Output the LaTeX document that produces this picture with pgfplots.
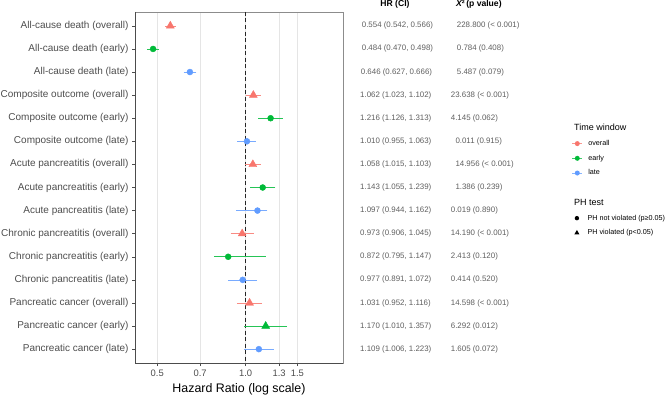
\documentclass[border=0pt]{standalone}
\usepackage{pgfplots}
\pgfplotsset{compat=1.18}
\usepackage{pgfplotstable}
\usepackage{fontspec}
\setmainfont{Liberation Sans}
\definecolor{cOv}{HTML}{F8766D}
\definecolor{cEa}{HTML}{00BA38}
\definecolor{cLa}{HTML}{619CFF}
\definecolor{gtxt}{HTML}{4D4D4D}

\pgfplotstableread{
y hr lo hi
1 0.554 0.542 0.566
4 1.062 1.023 1.102
7 1.058 1.015 1.103
10 0.973 0.906 1.045
13 1.031 0.952 1.116
}\overall
\pgfplotstableread{
y hr lo hi
2 0.484 0.470 0.498
5 1.216 1.126 1.313
8 1.143 1.055 1.239
11 0.872 0.795 1.147
}\earlyC
\pgfplotstableread{
y hr lo hi
14 1.170 1.010 1.357
}\earlyT
\pgfplotstableread{
y hr lo hi
3 0.646 0.627 0.666
6 1.010 0.955 1.063
9 1.097 0.944 1.162
12 0.977 0.891 1.072
15 1.109 1.006 1.223
}\late

\pgfplotstableread[col sep=semicolon]{
y;hx;hr;cx;chi
1;361.7;0.554 (0.542, 0.566);456.7;228.800 (< 0.001)
2;361.7;0.484 (0.470, 0.498);456.7;0.784 (0.408)
3;360.7;0.646 (0.627, 0.666);456.7;5.487 (0.079)
4;360;1.062 (1.023, 1.102);450.7;23.638 (< 0.001)
5;360;1.216 (1.126, 1.313);450.7;4.145 (0.062)
6;360;1.010 (0.955, 1.063);455.3;0.011 (0.915)
7;360;1.058 (1.015, 1.103);455.3;14.956 (< 0.001)
8;360;1.143 (1.055, 1.239);455.3;1.386 (0.239)
9;360;1.097 (0.944, 1.162);450.7;0.019 (0.890)
10;360;0.973 (0.906, 1.045);450.7;14.190 (< 0.001)
11;360;0.872 (0.795, 1.147);450.7;2.413 (0.120)
12;360;0.977 (0.891, 1.072);450.7;0.414 (0.520)
13;360;1.031 (0.952, 1.116);450.7;14.598 (< 0.001)
14;360;1.170 (1.010, 1.357);450.7;6.292 (0.012)
15;360;1.109 (1.006, 1.223);450.7;1.605 (0.072)
}\txt

\pgfplotsset{
  ci/.style={only marks, mark options={draw=none, fill=#1}, color=#1,
    error bars/x dir=both, error bars/x explicit,
    error bars/error bar style={color=#1!85!white, line width=0.7pt},
    error bars/error mark options={color=#1!85!white, line width=0.7pt, mark size=2.5pt}},
  overlay axis/.style={at={(0pt,33pt)}, anchor=south west, scale only axis,
    width=669pt, height=351pt, xmin=0, xmax=669, ymin=0.4, ymax=15.6,
    y dir=reverse, hide axis, clip=false},
  lgd/.style={legend style={draw=none, fill=none, inner sep=0pt, anchor=west, at={(axis cs:571.7,#1)},
    font=\fontsize{7.2}{8.6}\selectfont, row sep=6pt, column sep=4.6pt,
    nodes={inner sep=1pt, text depth=0.15em}},
    legend cell align=left},
}

\begin{document}
\begin{tikzpicture}
\useasboundingbox (0,0) rectangle (669pt,396pt);
\begin{axis}[
  at={(135pt,33pt)}, anchor=south west, scale only axis,
  width=208pt, height=351pt,
  xmode=log, xmin=0.42, xmax=2.145,
  ymin=0.4, ymax=15.6, y dir=reverse,
  xtick={0.5,0.7,1,1.3,1.5}, xticklabels={0.5,0.7,1.0,1.3,1.5},
  ytick={1,...,15},
  yticklabels={All-cause death (overall),All-cause death (early),All-cause death (late),
    Composite outcome (overall),Composite outcome (early),Composite outcome (late),
    Acute pancreatitis (overall),Acute pancreatitis (early),Acute pancreatitis (late),
    Chronic pancreatitis (overall),Chronic pancreatitis (early),Chronic pancreatitis (late),
    Pancreatic cancer (overall),Pancreatic cancer (early),Pancreatic cancer (late)},
  minor xtick={}, 
  tick align=outside, major tick length=3pt,
  xtick pos=bottom, ytick pos=left,
  tick style={black!70, line width=0.5pt},
  xmajorgrids, grid style={black!10, line width=0.5pt},
  axis line style={black!45, line width=0.5pt},
  yticklabel style={font=\fontsize{10}{12}\selectfont, text=gtxt},
  xticklabel style={font=\fontsize{9.4}{11}\selectfont, text=gtxt},
  xlabel={Hazard Ratio (log scale)},
  xlabel style={font=\fontsize{12.4}{14}\selectfont},
  clip=false,
]
\addplot[black!85, line width=1pt, dash pattern=on 4pt off 2.5pt] coordinates {(1,0.4) (1,15.6)};
\addplot[ci=cOv, mark=triangle*, mark size=4.6pt] table[x=hr, y=y,
  x error plus expr=\thisrow{hi}-\thisrow{hr}, x error minus expr=\thisrow{hr}-\thisrow{lo}] {\overall};
\addplot[ci=cEa, mark=*, mark size=3pt] table[x=hr, y=y,
  x error plus expr=\thisrow{hi}-\thisrow{hr}, x error minus expr=\thisrow{hr}-\thisrow{lo}] {\earlyC};
\addplot[ci=cEa, mark=triangle*, mark size=4.6pt] table[x=hr, y=y,
  x error plus expr=\thisrow{hi}-\thisrow{hr}, x error minus expr=\thisrow{hr}-\thisrow{lo}] {\earlyT};
\addplot[ci=cLa, mark=*, mark size=3pt] table[x=hr, y=y,
  x error plus expr=\thisrow{hi}-\thisrow{hr}, x error minus expr=\thisrow{hr}-\thisrow{lo}] {\late};
\draw[black!70, line width=0.6pt] (axis cs:0.42,0.4) -- (axis cs:0.42,15.6) -- (axis cs:2.145,15.6);
\end{axis}

% text columns + Time window legend
\begin{axis}[overlay axis, lgd=6.736]
\addplot[forget plot, draw=none, nodes near coords, point meta=explicit symbolic,
  nodes near coords style={anchor=west, inner sep=0pt, text=gtxt!90, font=\fontsize{7.9}{9}\selectfont}]
  table[x=hx, y=y, meta=hr] {\txt};
\addplot[forget plot, draw=none, nodes near coords, point meta=explicit symbolic,
  nodes near coords style={anchor=west, inner sep=0pt, text=gtxt!90, font=\fontsize{7.9}{9}\selectfont}]
  table[x=cx, y=y, meta=chi] {\txt};
\node[font=\bfseries\fontsize{8.6}{10}\selectfont] at (axis cs:395,0.084) {HR (CI)};
\node[anchor=west, font=\bfseries\fontsize{8.6}{10}\selectfont] at (axis cs:452.7,0.084) {{\itshape X}²\,(p value)};
\node[anchor=west, font=\fontsize{9}{11}\selectfont] at (axis cs:570.7,5.41) {Time window};
\node[anchor=west, font=\fontsize{9}{11}\selectfont] at (axis cs:570.7,8.658) {PH test};
\addlegendimage{legend image code/.code={\draw[draw=cOv!75!white, line width=0.8pt] (0pt,0pt) -- (10pt,0pt); \fill[fill=cOv, draw=none] (5pt,0pt) circle (2.5pt);}}
\addlegendentry{overall}
\addlegendimage{legend image code/.code={\draw[draw=cEa!75!white, line width=0.8pt] (0pt,0pt) -- (10pt,0pt); \fill[fill=cEa, draw=none] (5pt,0pt) circle (2.5pt);}}
\addlegendentry{early}
\addlegendimage{legend image code/.code={\draw[draw=cLa!75!white, line width=0.8pt] (0pt,0pt) -- (10pt,0pt); \fill[fill=cLa, draw=none] (5pt,0pt) circle (2.5pt);}}
\addlegendentry{late}
\end{axis}

% PH test legend
\begin{axis}[overlay axis, lgd=9.646]
\addlegendimage{legend image code/.code={\path[draw=none, fill=none] (0pt,-2.5pt) rectangle (10pt,2.5pt); \fill[fill=black, draw=none] (5pt,0pt) circle (2.2pt);}}
\addlegendentry{PH not violated (p≥0.05)}
\addlegendimage{legend image code/.code={\path[draw=none, fill=none] (0pt,-2.5pt) rectangle (10pt,2.5pt); \fill[fill=black, draw=none] (5pt,2.9pt) -- (2.5pt,-1.45pt) -- (7.5pt,-1.45pt) -- cycle;}}
\addlegendentry{PH violated (p<0.05)}
\end{axis}
\end{tikzpicture}
\end{document}
